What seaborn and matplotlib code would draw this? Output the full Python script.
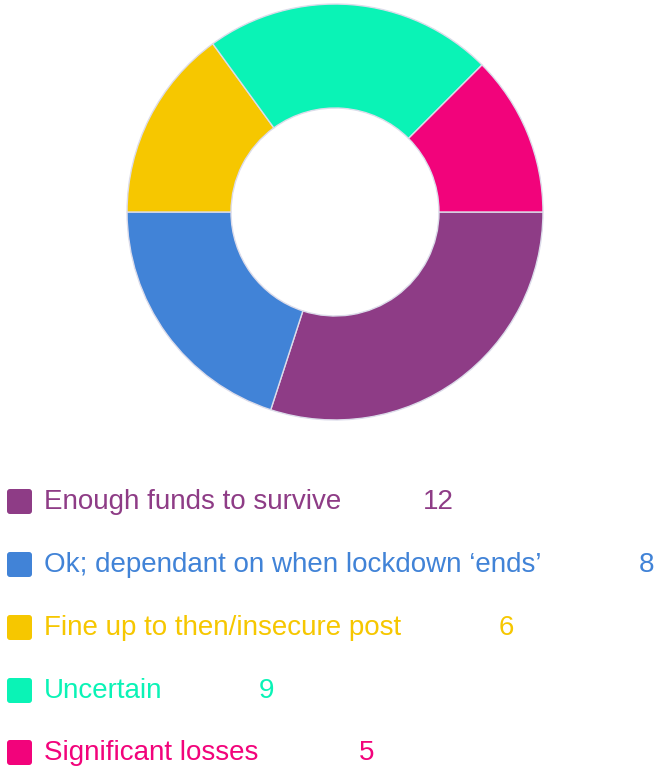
import matplotlib
matplotlib.use("Agg")
import matplotlib.pyplot as plt
import seaborn as sns
from matplotlib.patches import FancyBboxPatch

labels = ["Enough funds to survive",
          "Ok; dependant on when lockdown \u2018ends\u2019",
          "Fine up to then/insecure post",
          "Uncertain",
          "Significant losses"]
counts = [12, 8, 6, 9, 5]
colors = ["#8E3C86", "#4183D7", "#F6C700", "#0AF3B6", "#F2037B"]

sns.set_theme(style="white")
plt.rcParams['font.family'] = ['Liberation Sans', 'DejaVu Sans']

W, H = 659, 767
fig = plt.figure(figsize=(W / 100, H / 100), dpi=100)

# donut, centre ~(335, 212) px, radius ~209 px
cx, cy, r = 335, 212, 209
ax = fig.add_axes([(cx - r) / W, 1 - (cy + r) / H, 2 * r / W, 2 * r / H])
ax.pie(counts, colors=colors, startangle=0, counterclock=False, radius=1,
       wedgeprops=dict(width=0.5, edgecolor="#dcdcea", linewidth=1))
ax.set_xlim(-1.005, 1.005)
ax.set_ylim(-1.005, 1.005)
ax.set_axis_off()

# legend drawn in pixel space
lg = fig.add_axes([0, 0, 1, 1])
lg.set_xlim(0, W)
lg.set_ylim(H, 0)
lg.set_axis_off()

row_y = [501, 564, 627, 690, 752]
gaps = [82, 97, 97, 96, 100]
for lab, n, c, y, g in zip(labels, counts, colors, row_y, gaps):
    lg.add_patch(FancyBboxPatch((7, y - 12), 25, 25,
                                boxstyle="round,pad=0,rounding_size=3",
                                facecolor=c, edgecolor="none"))
    t = lg.text(44, y + 8, lab, color=c, fontsize=20, va="baseline", ha="left")
    lg.annotate(str(n), xy=(1, y + 8), xycoords=(t, lg.transData),
                xytext=(g, 0), textcoords="offset pixels",
                color=c, fontsize=20, va="baseline", ha="left")

fig.savefig("out.png", dpi=100)
